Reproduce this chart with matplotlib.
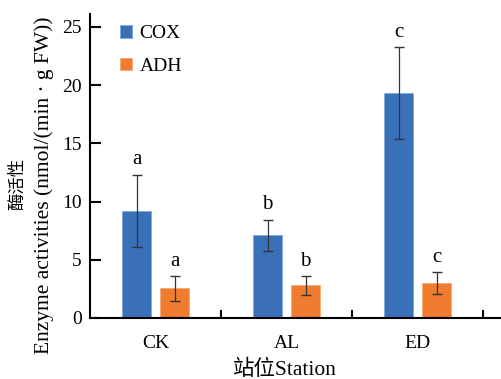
import matplotlib
matplotlib.use("Agg")
import matplotlib.pyplot as plt
import numpy as np

stations = ["CK", "AL", "ED"]
cox = [9.2, 7.1, 19.3]
cox_err = [3.1, 1.35, 3.95]
adh = [2.55, 2.8, 3.0]
adh_err = [1.05, 0.82, 0.95]
cox_letters = ["a", "b", "c"]
adh_letters = ["a", "b", "c"]

plt.rcParams['font.family'] = ['Liberation Serif', 'Noto Sans CJK SC']

W, H = 501, 379
fig = plt.figure(figsize=(W / 100, H / 100), dpi=100)
ax = fig.add_axes([0.18, 0.161, 0.82, 0.802])

x = np.arange(len(stations))
w = 0.22
off = 0.145
blue = "#3a70b8"
orange = "#f07c30"
ekw = dict(ecolor="#333333", elinewidth=0.9, capsize=3.5, capthick=1.0)
ax.bar(x - off, cox, w, color=blue, edgecolor="#7fa8dc", linewidth=0.6,
       yerr=cox_err, error_kw=ekw, label="COX")
ax.bar(x + off, adh, w, color=orange, edgecolor="#f6a874", linewidth=0.6,
       yerr=adh_err, error_kw=ekw, label="ADH")

for i in range(len(stations)):
    ax.text(x[i] - off, cox[i] + cox_err[i] + 0.45, cox_letters[i], ha="center", va="bottom", fontsize=15)
    ax.text(x[i] + off, adh[i] + adh_err[i] + 0.45, adh_letters[i], ha="center", va="bottom", fontsize=15)

ax.set_xlim(-0.5, 2.637)
ax.set_ylim(0, 26.1)
ax.set_yticks([0, 5, 10, 15, 20, 25])
ax.set_xticks(x)
ax.set_xticklabels(stations)
ax.set_xticks([0.5, 1.5, 2.5], minor=True)
ax.tick_params(axis="x", which="major", length=0, labelsize=14, pad=12.5)
ax.tick_params(axis="x", which="minor", direction="in", length=6, width=1.5)
ax.tick_params(axis="y", direction="in", length=8, width=1.5, labelsize=14, pad=6)
ax.spines["top"].set_visible(False)
ax.spines["right"].set_visible(False)
ax.spines["left"].set_linewidth(1.5)
ax.spines["bottom"].set_linewidth(1.5)

fig.text(18 / W, 1 - 184 / H, "酶活性", rotation=90, ha="center", va="center", fontsize=12.5)
fig.text(44 / W, 1 - 185 / H, "Enzyme activities (nmol/(min · g FW))", rotation=90,
         ha="center", va="center", fontsize=15.5)
fig.text(285 / W, 1 - 375 / H, "站位Station", ha="center", va="baseline", fontsize=15.5)

ax.legend(loc="upper left", bbox_to_anchor=(0.03, 1.02), frameon=False, fontsize=14,
          handlelength=0.6, handleheight=0.6, handletextpad=0.4, labelspacing=0.8)

fig.savefig("out.png", dpi=100)
